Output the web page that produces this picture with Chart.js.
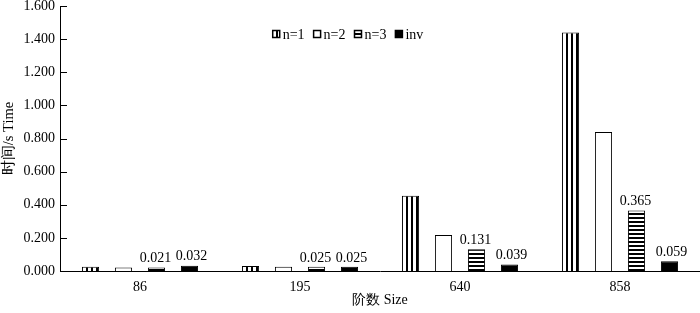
<!DOCTYPE html>
<html><head><meta charset="utf-8">
<script src="https://cdn.jsdelivr.net/npm/chart.js@4.4.1/dist/chart.umd.min.js"></script>
<style>html,body{margin:0;padding:0;background:#fff}#wrap{width:700px;height:313px}</style>
</head><body><div id="wrap"><canvas id="c" width="700" height="313"></canvas></div>
<script>
const categories = ["86", "195", "640", "858"];
const seriesNames = ["n=1", "n=2", "n=3", "inv"];
const n1 = [0.025, 0.030, 0.455, 1.440];
const n2 = [0.021, 0.025, 0.217, 0.840];
const n3 = [0.021, 0.025, 0.131, 0.365];
const inv = [0.032, 0.025, 0.039, 0.059];
const yTicks = [0, 0.2, 0.4, 0.6, 0.8, 1.0, 1.2, 1.4, 1.6];
const labeledSeries = [2, 3];

const FONT = "'Liberation Serif', 'DejaVu Serif', serif";

function makePattern(kind) {
  const c = document.createElement('canvas');
  const ctx = c.getContext('2d');
  if (kind === 'v') {
    c.width = 5; c.height = 5;
    ctx.fillStyle = '#fff'; ctx.fillRect(0, 0, 5, 5);
    ctx.fillStyle = '#000'; ctx.fillRect(1, 0, 2, 5);
  } else {
    c.width = 4; c.height = 4;
    ctx.fillStyle = '#fff'; ctx.fillRect(0, 0, 4, 4);
    ctx.fillStyle = '#000'; ctx.fillRect(0, 1, 4, 2);
  }
  return ctx.createPattern(c, 'repeat');
}
const fills = [makePattern('v'), '#fff', makePattern('h'), '#000'];
const seriesData = [n1, n2, n3, inv];

const innerTicks = {
  id: 'innerTicks',
  afterDraw(chart) {
    const {ctx, scales: {y}, chartArea} = chart;
    ctx.save();
    ctx.strokeStyle = '#000'; ctx.lineWidth = 1;
    yTicks.forEach(v => {
      const py = Math.round(y.getPixelForValue(v)) + 0.5;
      ctx.beginPath(); ctx.moveTo(chartArea.left, py); ctx.lineTo(chartArea.left + 7, py); ctx.stroke();
    });
    ctx.restore();
  }
};

const valueLabels = {
  id: 'valueLabels',
  afterDatasetsDraw(chart) {
    const ctx = chart.ctx;
    ctx.save();
    ctx.fillStyle = '#000';
    ctx.font = '14px ' + FONT;
    ctx.textAlign = 'center'; ctx.textBaseline = 'bottom';
    labeledSeries.forEach((di, k) => {
      const meta = chart.getDatasetMeta(di);
      const dx = k === 0 ? -1 : 2;
      meta.data.forEach((el, i) => {
        ctx.fillText(seriesData[di][i].toFixed(3), el.x + dx, el.y - 2);
      });
    });
    ctx.restore();
  }
};

// legend drawn inside chart area, horizontally, near the top centre
const insideLegend = {
  id: 'insideLegend',
  afterDraw(chart) {
    const ctx = chart.ctx;
    const ds = chart.data.datasets;
    ctx.save();
    ctx.font = '14px ' + FONT;
    ctx.textBaseline = 'middle';
    ctx.textAlign = 'left';
    const box = 7, gapBoxText = 3, gapItems = 9;
    const widths = ds.map(d => box + gapBoxText + ctx.measureText(d.label).width);
    const total = widths.reduce((a, b) => a + b, 0) + gapItems * (ds.length - 1);
    let x = 348 - total / 2;
    const yc = 34;
    ds.forEach((d, i) => {
      ctx.fillStyle = d.backgroundColor;
      ctx.fillRect(x, yc - box / 2, box, box);
      ctx.strokeStyle = '#000'; ctx.lineWidth = 1.5;
      ctx.strokeRect(x, yc - box / 2, box, box);
      ctx.fillStyle = '#000';
      ctx.fillText(d.label, x + box + gapBoxText, yc + 1);
      x += widths[i] + gapItems;
    });
    ctx.restore();
  }
};

new Chart(document.getElementById('c'), {
  type: 'bar',
  data: {
    labels: categories,
    datasets: seriesNames.map((name, i) => ({
      label: name,
      data: seriesData[i],
      backgroundColor: fills[i],
      borderColor: '#000',
      borderWidth: 1,
      categoryPercentage: 0.825,
      barPercentage: 0.52
    }))
  },
  options: {
    responsive: false,
    animation: false,
    layout: {padding: {top: 6, right: 0, left: 0, bottom: 0}},
    plugins: {
      tooltip: {enabled: false},
      legend: {display: false}
    },
    scales: {
      x: {
        grid: {display: false, drawTicks: false},
        border: {color: '#000', width: 1},
        ticks: {color: '#000', font: {family: FONT, size: 14}, padding: 8},
        title: {display: true, text: '阶数 Size', color: '#000', font: {family: FONT, size: 14}, padding: {top: 2}},
        afterFit(s) { s.height = 42; s.paddingLeft = 0; s.paddingRight = 0; }
      },
      y: {
        min: 0, max: 1.6,
        afterBuildTicks(s) { s.ticks = yTicks.map(v => ({value: v})); },
        grid: {display: false, drawTicks: false},
        border: {color: '#000', width: 1},
        ticks: {color: '#000', font: {family: FONT, size: 14}, padding: 5,
          callback: v => Number(v).toFixed(3)},
        title: {display: true, text: '时间/s Time', color: '#000', font: {family: FONT, size: 14.5}, padding: 0},
        afterFit(s) { s.width = 60; s.paddingTop = 0; s.paddingBottom = 0; }
      }
    }
  },
  plugins: [innerTicks, valueLabels, insideLegend]
});
</script></body></html>
